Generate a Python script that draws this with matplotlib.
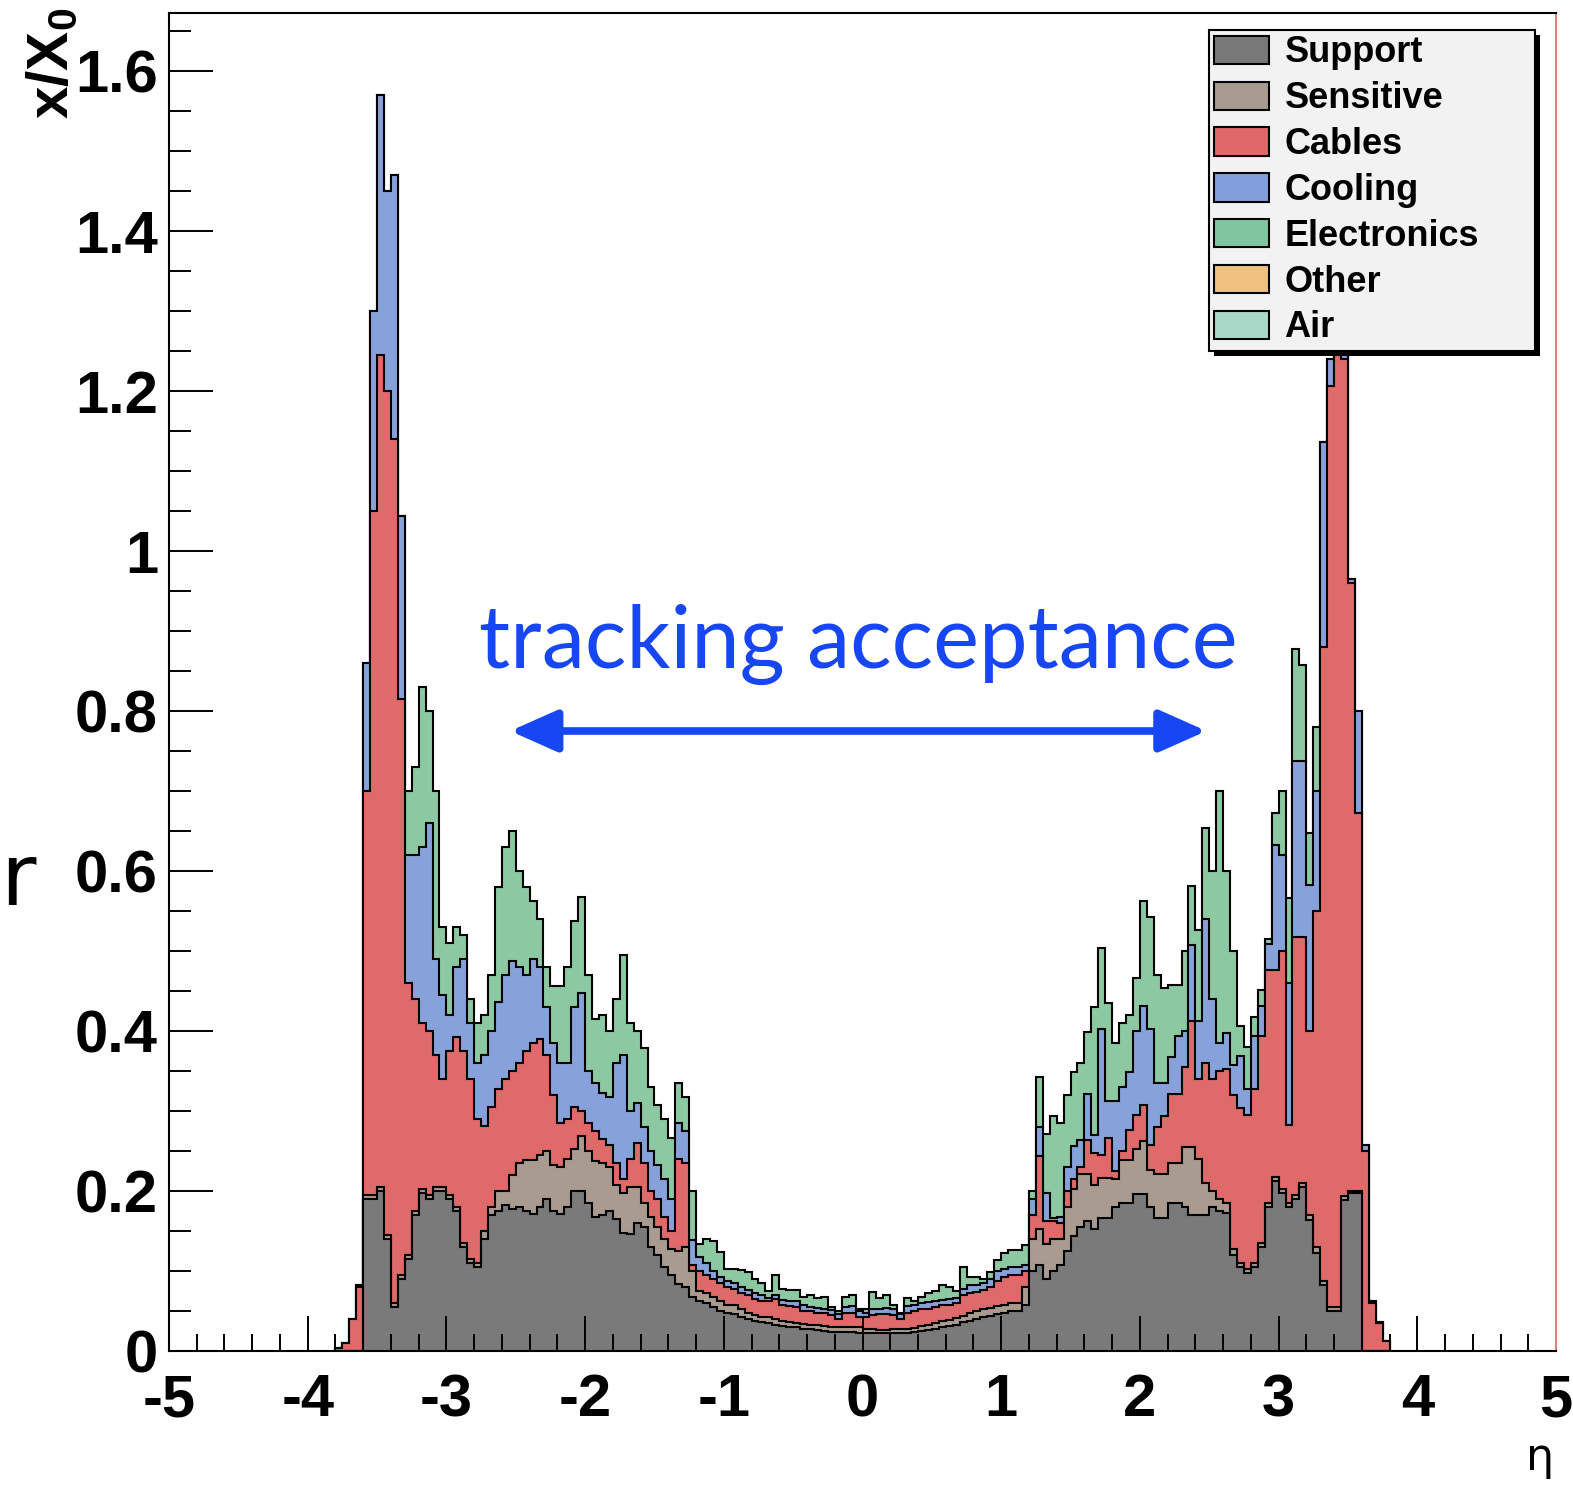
import matplotlib
matplotlib.use("Agg")
import matplotlib.pyplot as plt
from matplotlib.patches import Patch, Rectangle
from matplotlib.ticker import MultipleLocator
import numpy as np

plt.rcParams['axes.unicode_minus'] = False
plt.rcParams['mathtext.fontset'] = 'custom'
plt.rcParams['mathtext.rm'] = 'Liberation Sans'
plt.rcParams['mathtext.bf'] = 'Liberation Sans:bold'

# histogram binning (eta), 0.05 wide bins starting at -3.8
eta_start = -3.8
bin_width = 0.05

# cumulative x/X0 after each material layer (stacked)
support_top = [
    0, 0, 0, 0, 0.19, 0.19, 0.20, 0.14, 0.055, 0.09,
    0.115, 0.17, 0.198, 0.19, 0.20, 0.20, 0.19, 0.175, 0.13, 0.11,
    0.105, 0.14, 0.17, 0.175, 0.182, 0.178, 0.18, 0.175, 0.171, 0.18,
    0.19, 0.175, 0.171, 0.18, 0.20, 0.20, 0.185, 0.167, 0.17, 0.175,
    0.165, 0.148, 0.146, 0.16, 0.155, 0.13, 0.12, 0.105, 0.095, 0.084,
    0.08, 0.068, 0.062, 0.06, 0.055, 0.05, 0.048, 0.046, 0.042, 0.04,
    0.037, 0.036, 0.035, 0.032, 0.031, 0.03, 0.03, 0.028, 0.027, 0.026,
    0.025, 0.024, 0.024, 0.024, 0.024, 0.023, 0.022, 0.022, 0.022, 0.022,
    0.022, 0.022, 0.023, 0.024, 0.025, 0.026, 0.028, 0.03, 0.031, 0.033,
    0.036, 0.038, 0.04, 0.042, 0.044, 0.046, 0.048, 0.05, 0.05, 0.057,
    0.10, 0.107, 0.09, 0.10, 0.107, 0.125, 0.144, 0.155, 0.162, 0.153,
    0.166, 0.166, 0.18, 0.185, 0.185, 0.196, 0.196, 0.18, 0.166, 0.166,
    0.185, 0.185, 0.18, 0.17, 0.17, 0.17, 0.18, 0.175, 0.172, 0.12,
    0.105, 0.098, 0.105, 0.13, 0.18, 0.213, 0.197, 0.18, 0.19, 0.205,
    0.164, 0.123, 0.082, 0.05, 0.05, 0.189, 0.197, 0.197, 0, 0,
    0, 0,
]
sensitive_top = [
    0, 0, 0, 0, 0.195, 0.195, 0.205, 0.145, 0.06, 0.095,
    0.12, 0.175, 0.203, 0.195, 0.205, 0.205, 0.195, 0.18, 0.135, 0.115,
    0.11, 0.15, 0.18, 0.20, 0.20, 0.22, 0.235, 0.239, 0.239, 0.245,
    0.25, 0.232, 0.23, 0.24, 0.253, 0.269, 0.25, 0.237, 0.235, 0.23,
    0.207, 0.198, 0.205, 0.205, 0.185, 0.167, 0.155, 0.14, 0.128, 0.125,
    0.13, 0.10, 0.075, 0.072, 0.068, 0.062, 0.058, 0.057, 0.052, 0.048,
    0.045, 0.043, 0.043, 0.04, 0.037, 0.036, 0.035, 0.034, 0.033, 0.032,
    0.031, 0.03, 0.03, 0.03, 0.03, 0.03, 0.028, 0.027, 0.026, 0.026,
    0.027, 0.027, 0.028, 0.029, 0.031, 0.033, 0.035, 0.037, 0.039, 0.041,
    0.044, 0.047, 0.05, 0.052, 0.054, 0.056, 0.058, 0.06, 0.06, 0.08,
    0.14, 0.153, 0.134, 0.14, 0.14, 0.18, 0.203, 0.221, 0.221, 0.207,
    0.216, 0.216, 0.215, 0.239, 0.239, 0.253, 0.262, 0.226, 0.221, 0.221,
    0.235, 0.235, 0.255, 0.255, 0.24, 0.21, 0.20, 0.19, 0.185, 0.128,
    0.11, 0.103, 0.11, 0.135, 0.185, 0.218, 0.202, 0.185, 0.195, 0.21,
    0.17, 0.13, 0.087, 0.055, 0.055, 0.194, 0.20, 0.20, 0, 0,
    0, 0,
]
cables_top = [
    0.004, 0.01, 0.04, 0.08, 0.70, 1.05, 1.245, 1.20, 1.14, 0.815,
    0.46, 0.44, 0.41, 0.40, 0.37, 0.34, 0.375, 0.393, 0.375, 0.34,
    0.29, 0.281, 0.305, 0.327, 0.34, 0.35, 0.36, 0.375, 0.385, 0.39,
    0.37, 0.32, 0.285, 0.29, 0.305, 0.30, 0.285, 0.275, 0.265, 0.258,
    0.235, 0.215, 0.24, 0.26, 0.235, 0.20, 0.19, 0.168, 0.15, 0.24,
    0.235, 0.107, 0.10, 0.095, 0.09, 0.085, 0.08, 0.078, 0.072, 0.07,
    0.065, 0.063, 0.062, 0.065, 0.058, 0.056, 0.055, 0.05, 0.05, 0.048,
    0.047, 0.045, 0.04, 0.048, 0.048, 0.043, 0.042, 0.045, 0.046, 0.046,
    0.045, 0.04, 0.048, 0.05, 0.052, 0.053, 0.055, 0.058, 0.058, 0.06,
    0.07, 0.072, 0.074, 0.076, 0.08, 0.088, 0.092, 0.095, 0.095, 0.10,
    0.17, 0.244, 0.162, 0.162, 0.16, 0.20, 0.215, 0.23, 0.264, 0.248,
    0.245, 0.266, 0.225, 0.25, 0.276, 0.295, 0.308, 0.258, 0.28, 0.294,
    0.321, 0.321, 0.355, 0.412, 0.34, 0.36, 0.34, 0.35, 0.353, 0.32,
    0.304, 0.295, 0.328, 0.394, 0.476, 0.476, 0.50, 0.283, 0.517, 0.517,
    0.40, 0.55, 0.88, 1.206, 1.30, 1.24, 0.96, 0.673, 0.25, 0.06,
    0.035, 0.012,
]
cooling_top = [
    0.004, 0.01, 0.04, 0.083, 0.86, 1.30, 1.57, 1.45, 1.47, 1.044,
    0.62, 0.62, 0.63, 0.66, 0.49, 0.445, 0.42, 0.48, 0.49, 0.41,
    0.36, 0.37, 0.40, 0.436, 0.47, 0.488, 0.48, 0.47, 0.49, 0.48,
    0.43, 0.385, 0.36, 0.36, 0.43, 0.447, 0.35, 0.335, 0.322, 0.318,
    0.36, 0.37, 0.30, 0.31, 0.28, 0.25, 0.232, 0.215, 0.19, 0.285,
    0.275, 0.139, 0.118, 0.11, 0.10, 0.092, 0.088, 0.085, 0.08, 0.076,
    0.072, 0.07, 0.066, 0.07, 0.064, 0.062, 0.062, 0.058, 0.055, 0.054,
    0.053, 0.051, 0.046, 0.055, 0.056, 0.05, 0.048, 0.052, 0.053, 0.054,
    0.052, 0.046, 0.056, 0.057, 0.06, 0.061, 0.063, 0.064, 0.065, 0.066,
    0.078, 0.082, 0.082, 0.085, 0.09, 0.10, 0.103, 0.105, 0.105, 0.107,
    0.19, 0.28, 0.198, 0.166, 0.167, 0.23, 0.256, 0.264, 0.321, 0.27,
    0.403, 0.312, 0.312, 0.33, 0.349, 0.40, 0.431, 0.403, 0.335, 0.335,
    0.367, 0.394, 0.40, 0.508, 0.412, 0.54, 0.44, 0.385, 0.398, 0.357,
    0.369, 0.328, 0.394, 0.431, 0.509, 0.632, 0.62, 0.46, 0.738, 0.738,
    0.582, 0.70, 1.136, 1.24, 1.34, 1.26, 0.965, 0.80, 0.258, 0.062,
    0.036, 0.012,
]
electronics_top = [
    0.004, 0.01, 0.04, 0.083, 0.86, 1.30, 1.57, 1.45, 1.47, 1.044,
    0.70, 0.73, 0.83, 0.80, 0.70, 0.53, 0.51, 0.53, 0.52, 0.44,
    0.41, 0.42, 0.47, 0.58, 0.63, 0.65, 0.60, 0.58, 0.562, 0.54,
    0.48, 0.456, 0.456, 0.48, 0.538, 0.568, 0.47, 0.415, 0.42, 0.40,
    0.44, 0.495, 0.41, 0.40, 0.379, 0.33, 0.307, 0.29, 0.266, 0.335,
    0.317, 0.20, 0.134, 0.14, 0.137, 0.124, 0.103, 0.103, 0.101, 0.099,
    0.09, 0.085, 0.075, 0.095, 0.078, 0.076, 0.076, 0.068, 0.07, 0.066,
    0.068, 0.055, 0.05, 0.068, 0.07, 0.052, 0.052, 0.074, 0.066, 0.07,
    0.058, 0.047, 0.066, 0.062, 0.068, 0.072, 0.075, 0.082, 0.08, 0.075,
    0.105, 0.093, 0.093, 0.09, 0.099, 0.114, 0.122, 0.126, 0.126, 0.132,
    0.20, 0.342, 0.271, 0.294, 0.285, 0.32, 0.349, 0.36, 0.399, 0.43,
    0.504, 0.435, 0.385, 0.41, 0.42, 0.466, 0.563, 0.543, 0.47, 0.454,
    0.458, 0.458, 0.50, 0.581, 0.526, 0.654, 0.60, 0.70, 0.60, 0.50,
    0.406, 0.38, 0.418, 0.451, 0.515, 0.673, 0.70, 0.566, 0.878, 0.857,
    0.648, 0.78, 1.136, 1.24, 1.34, 1.26, 0.965, 0.80, 0.258, 0.062,
    0.036, 0.012,
]

legend_names = ['Support', 'Sensitive', 'Cables', 'Cooling', 'Electronics', 'Other', 'Air']
legend_colors = ['#787878', '#a89b90', '#e06868', '#809fdc', '#7fc6a0', '#f0c282', '#a9d8c8']

x_ticks = [-5, -4, -3, -2, -1, 0, 1, 2, 3, 4, 5]
x_tick_labels = ['-5', '-4', '-3', '-2', '-1', '0', '1', '2', '3', '4', '5']
y_ticks = [0, 0.2, 0.4, 0.6, 0.8, 1.0, 1.2, 1.4, 1.6]
y_tick_labels = ['0', '0.2', '0.4', '0.6', '0.8', '1', '1.2', '1.4', '1.6']

arrow_eta = (-2.54, 2.48)
arrow_level = 0.775
blue = '#1746f5'

edges = eta_start + bin_width * np.arange(len(support_top) + 1)

fig = plt.figure(figsize=(15.73, 14.85), dpi=100)
ax = fig.add_axes([169 / 1573, 134 / 1485, 1387 / 1573, 1338 / 1485])

# draw the stack from the top layer down, each one from zero (THStack style)
stack = [
    (electronics_top, '#8cc9a3'),
    (cooling_top, '#87a2da'),
    (cables_top, '#de6a6a'),
    (sensitive_top, '#a99b8f'),
    (support_top, '#7a7a7a'),
]
for vals, col in stack:
    ax.stairs(vals, edges, baseline=0, fill=True, facecolor=col,
              edgecolor='black', linewidth=1.5)

ax.set_xlim(-5, 5)
ax.set_ylim(0, 1.6725)
ax.set_xticks(x_ticks, labels=x_tick_labels)
ax.set_yticks(y_ticks, labels=y_tick_labels)
ax.xaxis.set_minor_locator(MultipleLocator(0.2))
ax.yaxis.set_minor_locator(MultipleLocator(0.05))
ax.tick_params(axis='both', which='both', direction='in', width=1.4,
               top=False, right=False, labelsize=43)
ax.tick_params(axis='x', which='major', length=25, pad=16)
ax.tick_params(axis='x', which='minor', length=12.5)
ax.tick_params(axis='y', which='major', length=31.5, pad=8)
ax.tick_params(axis='y', which='minor', length=16)
for lab in ax.get_xticklabels() + ax.get_yticklabels():
    lab.set_fontweight('bold')
    lab.set_family('Liberation Sans')

for s in ax.spines.values():
    s.set_linewidth(1.5)
ax.spines['right'].set_color('#e08080')

handles = [Patch(facecolor=c, edgecolor='black', linewidth=1.5, label=n)
           for n, c in zip(legend_names, legend_colors)]
leg = ax.legend(handles=handles, loc='upper left',
                bbox_to_anchor=(0.7498, 0.7496, 0.2350, 0.2377), mode='expand',
                borderaxespad=0, prop={'family': 'Liberation Sans', 'weight': 'bold', 'size': 26},
                handlelength=1.52, handleheight=0.83, handletextpad=0.42,
                labelspacing=0.30, borderpad=0.15, fancybox=False, shadow=False,
                framealpha=1, facecolor='#f2f2f2', edgecolor='black')
leg.get_frame().set_linewidth(1.5)
leg.set_zorder(6)

# solid black drop shadow behind the legend box
fig.canvas.draw()
bb = leg.get_window_extent()
shadow = Rectangle((bb.x0 + 5, bb.y0 - 5), bb.width, bb.height, transform=None,
                   facecolor='black', edgecolor='none', zorder=5.5, clip_on=False)
ax.add_artist(shadow)

# annotation
ax.annotate('', xy=(arrow_eta[0], arrow_level), xytext=(arrow_eta[1], arrow_level),
            arrowprops=dict(arrowstyle='<|-|>,head_length=0.36,head_width=0.16',
                            mutation_scale=80, lw=5.5, color=blue, shrinkA=0, shrinkB=0))
fig.text(0.5458, 0.5502, 'tracking acceptance', color=blue, fontsize=62.5,
         family='Lato', ha='center', va='baseline')

# axis titles
fig.text(52 / 1573, 1 - 8 / 1485, r'x/X$_\mathbf{0}$', rotation=90, ha='center', va='top',
         fontsize=42, fontweight='bold', family='Liberation Sans')
fig.text(1554 / 1573, 0.0101, 'η', fontsize=32, ha='right', va='baseline',
         family='DejaVu Sans')

# piece of slide text at the left edge
fig.text(0.0, (1485 - 905) / 1485, 'r', fontsize=62, ha='left', va='baseline',
         family='DejaVu Sans')

fig.savefig('out.png', dpi=100)
